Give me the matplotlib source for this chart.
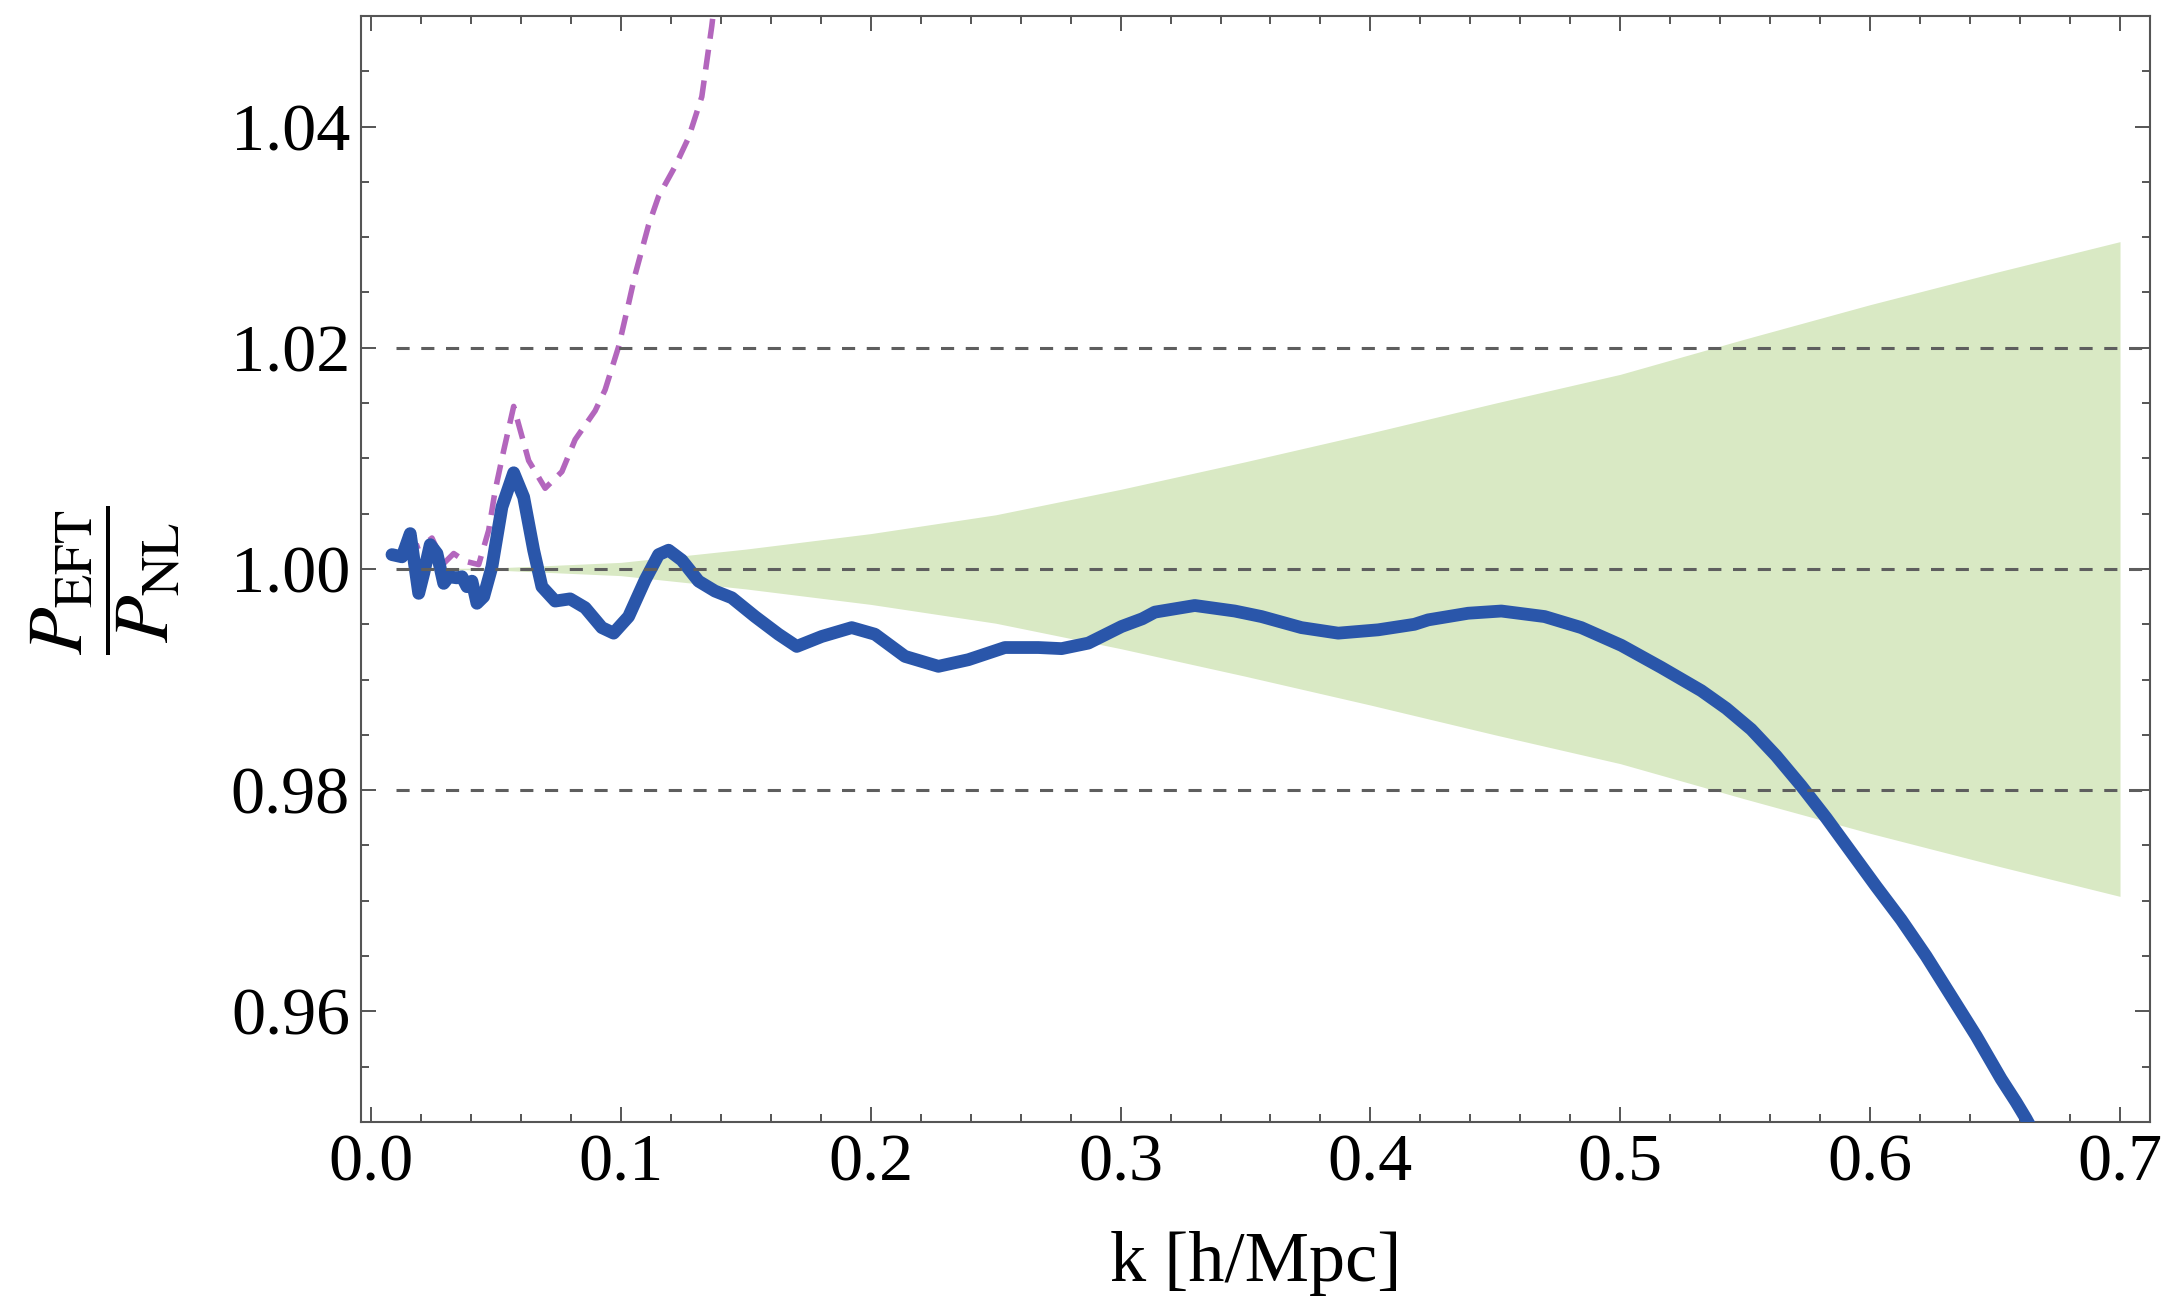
import matplotlib
matplotlib.use("Agg")
import matplotlib.pyplot as plt
from matplotlib.ticker import MultipleLocator, FormatStrFormatter

# EFT / nonlinear ratio (thick blue curve)
k_eft = [0.0084, 0.0124, 0.0157, 0.0191, 0.0211, 0.0237, 0.0264, 0.0291, 0.0311,
         0.0344, 0.0364, 0.0384, 0.0404, 0.0424, 0.0451, 0.0484, 0.0524, 0.0571,
         0.0611, 0.0651, 0.0684, 0.0737, 0.0797, 0.0857, 0.0924, 0.0971, 0.1031,
         0.1097, 0.1151, 0.1191, 0.1244, 0.1311, 0.1377, 0.1444, 0.1537, 0.1631,
         0.1704, 0.1804, 0.1924, 0.2017, 0.2137, 0.2271, 0.2391, 0.2537, 0.2671,
         0.2764, 0.2871, 0.3004, 0.3087, 0.3137, 0.3297, 0.3457, 0.3564, 0.3724,
         0.3871, 0.4031, 0.4176, 0.4231, 0.4391, 0.4524, 0.4697, 0.4844, 0.5004,
         0.5164, 0.5324, 0.5424, 0.5524, 0.5624, 0.5724, 0.5824, 0.5924, 0.6024,
         0.6124, 0.6224, 0.6324, 0.6424, 0.6524, 0.6584, 0.6624, 0.6720]
ratio_eft = [1.0013, 1.0011, 1.0032, 0.9978, 0.9996, 1.0022, 1.0014, 0.9987, 0.9993,
             0.9992, 0.9993, 0.9984, 0.9989, 0.9969, 0.9975, 1.0002, 1.0056, 1.0087,
             1.0065, 1.0017, 0.9984, 0.9971, 0.9973, 0.9965, 0.9947, 0.9942, 0.9957,
             0.9990, 1.0013, 1.0017, 1.0008, 0.9989, 0.9980, 0.9974, 0.9957, 0.9941,
             0.9930, 0.9939, 0.9947, 0.9941, 0.9921, 0.9912, 0.9918, 0.9929, 0.9929,
             0.9928, 0.9933, 0.9948, 0.9955, 0.9961, 0.9967, 0.9962, 0.9957, 0.9947,
             0.9942, 0.9945, 0.9950, 0.9954, 0.9960, 0.9962, 0.9957, 0.9947, 0.9931,
             0.9911, 0.9890, 0.9874, 0.9855, 0.9831, 0.9804, 0.9775, 0.9744, 0.9713,
             0.9683, 0.9650, 0.9614, 0.9578, 0.9539, 0.9518, 0.9503, 0.9463]

# one-loop ratio (dashed purple curve)
k_1loop = [0.0120, 0.0217, 0.0244, 0.0291, 0.0331, 0.0377, 0.0431, 0.0471, 0.0497,
           0.0531, 0.0571, 0.0631, 0.0697, 0.0764, 0.0817, 0.0897, 0.0937, 0.0991,
           0.1031, 0.1057, 0.1111, 0.1151, 0.1217, 0.1271, 0.1324, 0.1364, 0.1400]
ratio_1loop = [1.0015, 1.0023, 1.0028, 1.0005, 1.0014, 1.0007, 1.0004, 1.0035, 1.0071,
               1.0107, 1.0147, 1.0098, 1.0073, 1.0088, 1.0117, 1.0143, 1.0162, 1.0201,
               1.0240, 1.0266, 1.0311, 1.0337, 1.0364, 1.0390, 1.0427, 1.0491, 1.0560]

# error band around 1 (green)
k_band = [0.01, 0.05, 0.1, 0.15, 0.2, 0.25, 0.3, 0.35, 0.4, 0.45, 0.5, 0.55, 0.6, 0.65, 0.7]
band_halfwidth = [0.0, 0.0001, 0.0006, 0.0018, 0.0032, 0.0049, 0.0072, 0.0097, 0.0123,
                  0.0150, 0.0176, 0.0208, 0.0239, 0.0268, 0.0296]

ref_levels = [0.98, 1.00, 1.02]

plt.rcParams['font.family'] = 'Liberation Serif'
plt.rcParams['mathtext.fontset'] = 'stix'

W, H = 2167, 1300
fig = plt.figure(figsize=(W / 100, H / 100), dpi=100)
ax = fig.add_axes([361 / W, 1 - 1122 / H, (2150 - 361) / W, (1122 - 16) / H])

band_lo = [1 - h for h in band_halfwidth]
band_hi = [1 + h for h in band_halfwidth]
ax.fill_between(k_band, band_lo, band_hi, color='#d9e9c4', linewidth=0, zorder=1)

ax.plot(k_1loop, ratio_1loop, color='#b366bd', lw=4, dashes=(3.6, 2.0), zorder=3)
ax.plot(k_eft, ratio_eft, color='#2a56aa', lw=9.2, solid_joinstyle='round',
        solid_capstyle='round', zorder=4)

# reference lines
for lev in ref_levels:
    ax.plot([0.01, 0.712], [lev, lev], color='#5e5e5e', lw=2.2, dashes=(4.3, 3.8), zorder=5)

ax.set_xlim(-0.004, 0.712)
ax.set_ylim(0.95, 1.05)

ax.xaxis.set_major_locator(MultipleLocator(0.1))
ax.xaxis.set_minor_locator(MultipleLocator(0.02))
ax.yaxis.set_major_locator(MultipleLocator(0.02))
ax.yaxis.set_minor_locator(MultipleLocator(0.005))
ax.xaxis.set_major_formatter(FormatStrFormatter('%.1f'))
ax.yaxis.set_major_formatter(FormatStrFormatter('%.2f'))

ax.tick_params(which='both', direction='in', top=True, right=True, color='#555555',
               width=1.4, labelsize=49, pad=8)
ax.tick_params(which='major', length=11)
ax.tick_params(which='minor', length=6)
for s in ax.spines.values():
    s.set_color('#555555')
    s.set_linewidth(1.5)

ax.set_xlabel('k [h/Mpc]', fontsize=52, va='center')
ax.xaxis.set_label_coords(0.5, -0.128)
ax.set_ylabel(r'$\dfrac{P_{\mathrm{EFT}}}{P_{\mathrm{NL}}}$', fontsize=56, va='center')
ax.yaxis.set_label_coords(-0.143, 0.49)

fig.savefig('out.png', dpi=100)
